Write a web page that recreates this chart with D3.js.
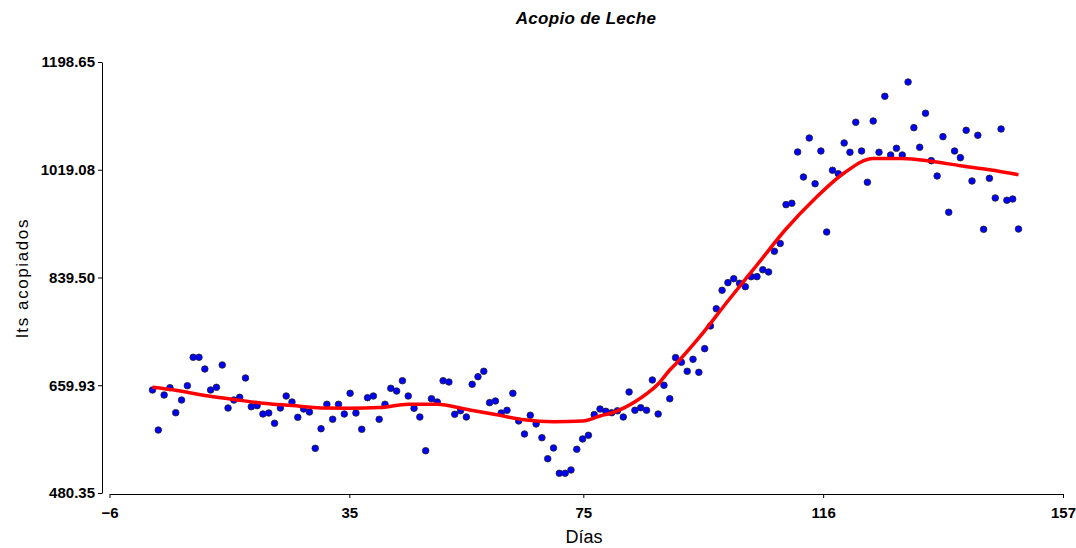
<!DOCTYPE html>
<html lang="es">
<head>
<meta charset="UTF-8">
<script src="https://d3js.org/d3.v7.min.js"></script>
<style>
  body { margin: 0; background: #fff; }
  text { font-family: "Liberation Sans Narrow", "Arial Narrow", "Liberation Sans", Arial, sans-serif; }
</style>
</head>
<body>
<div id="chart"></div>
<script>
// days 1..150
const days = d3.range(1, 151);

const litros = [
  652.0, 585.3, 643.7, 655.8, 614.2, 635.3, 659.2, 706.5, 706.5, 687.0,
  652.0, 656.5, 693.7, 622.0, 635.3, 639.8, 672.0, 624.2, 625.9, 612.0,
  613.7, 596.5, 622.0, 642.0, 632.0, 606.5, 620.3, 615.3, 554.8, 587.5,
  628.2, 603.2, 628.2, 612.0, 646.5, 613.7, 586.5, 639.2, 642.0, 603.2,
  628.2, 654.8, 650.3, 667.5, 642.0, 621.5, 607.0, 550.8, 637.5, 632.0,
  667.5, 665.3, 611.5, 617.5, 607.0, 661.5, 674.2, 683.2, 630.9, 633.7,
  613.7, 618.2, 646.5, 600.4, 578.7, 609.9, 595.4, 572.5, 537.5, 555.4,
  513.2, 513.2, 518.7, 553.2, 570.4, 576.5, 610.9, 620.3, 616.5, 614.2,
  617.4, 607.0, 648.7, 618.2, 622.5, 618.2, 668.7, 612.0, 659.9, 637.5,
  705.9, 698.2, 683.2, 703.2, 681.5, 720.9, 758.7, 787.5, 818.2, 830.9,
  837.5, 829.9, 824.2, 840.9, 840.9, 852.5, 848.7, 883.2, 896.2, 960.9,
  963.2, 1048.7, 1007.0, 1072.0, 995.8, 1050.3, 915.3, 1018.2, 1012.5, 1063.7,
  1048.2, 1098.2, 1050.3, 998.2, 1100.3, 1048.2, 1141.5, 1043.7, 1054.8, 1043.7,
  1165.3, 1089.2, 1056.5, 1113.2, 1034.2, 1008.7, 1074.2, 948.2, 1050.3, 1039.2,
  1084.8, 1000.3, 1076.5, 919.8, 1004.8, 972.0, 1087.0, 968.2, 970.3, 920.3
];

// smoothed trend (red line)
const trendDays = [1, 5, 10, 15, 20, 25, 30, 35, 40, 45, 50, 55, 60, 65, 70, 75, 78, 80, 85, 88, 90, 92, 95, 100, 105, 110, 115, 120, 125, 130, 135, 140, 145, 150];
const trendVals = [656.5, 651.5, 642.8, 636.3, 630.0, 626.0, 622.0, 621.7, 622.8, 628.3, 628.3, 619.8, 611.2, 602.3, 599.2, 600.4, 608.7, 613.7, 638.7, 662.0, 685.3, 705.3, 738.7, 800.3, 860.3, 920.3, 971.2, 1013.7, 1037.8, 1037.8, 1033.2, 1025.8, 1019.2, 1010.8];

const yTicks = [480.35, 659.93, 839.50, 1019.08, 1198.65];
const xTicks = [-6, 35, 75, 116, 157];

const width = 1076, height = 548;

const svg = d3.select("#chart").append("svg")
  .attr("width", width)
  .attr("height", height);

// points sit a touch left of the axis positions in the original
const x = d3.scaleLinear().domain([-6, 157]).range([109.5, 1063]);
const y = d3.scaleLinear().domain([480.35, 1198.65]).range([493, 62]);
const xp = d3.scaleLinear().domain([1, 150]).range([152.5, 1018.5]);

// title
svg.append("text")
  .attr("x", 586).attr("y", 24)
  .attr("text-anchor", "middle")
  .style("font-size", "17px")
  .style("font-weight", "bold")
  .style("font-style", "italic")
  .style("letter-spacing", "0.3px")
  .text("Acopio de Leche");

// y axis
const yAxis = svg.append("g")
  .attr("transform", "translate(102,0)")
  .call(d3.axisLeft(y).tickValues(yTicks).tickFormat(d3.format(".2f")).tickSize(4).tickSizeOuter(0));

// x axis
const xAxis = svg.append("g")
  .attr("transform", "translate(0,494)")
  .call(d3.axisBottom(x).tickValues(xTicks).tickFormat(d3.format("d")).tickSize(4).tickSizeOuter(0));

[yAxis, xAxis].forEach(g => {
  g.selectAll("text")
    .style("font-family", "'Liberation Sans Narrow', 'Arial Narrow', 'Liberation Sans', Arial, sans-serif")
    .style("font-size", "15px")
    .style("font-weight", "bold")
    .attr("fill", "#000");
  g.selectAll("line, path").attr("stroke", "#000");
});
xAxis.selectAll("text").attr("dy", "1.1em");

// axis labels
svg.append("text")
  .attr("transform", "translate(28,278) rotate(-90)")
  .attr("text-anchor", "middle")
  .style("font-size", "17px")
  .style("letter-spacing", "1.6px")
  .text("lts acopiados");

svg.append("text")
  .attr("x", 584).attr("y", 543)
  .attr("text-anchor", "middle")
  .style("font-size", "18px")
  .text("Días");

// points
svg.append("g")
  .selectAll("circle")
  .data(days)
  .join("circle")
  .attr("cx", (d) => xp(d))
  .attr("cy", (d, i) => y(litros[i]))
  .attr("r", 3.3)
  .attr("fill", "#0000ff")
  .attr("stroke", "#222")
  .attr("stroke-width", 0.8);

// trend line
svg.append("path")
  .datum(trendDays.map((d, i) => [d, trendVals[i]]))
  .attr("fill", "none")
  .attr("stroke", "#ff0000")
  .attr("stroke-width", 3.5)
  .attr("stroke-linejoin", "round")
  .attr("d", d3.line()
    .curve(d3.curveMonotoneX)
    .x((d) => xp(d[0]))
    .y((d) => y(d[1])));
</script>
</body>
</html>
